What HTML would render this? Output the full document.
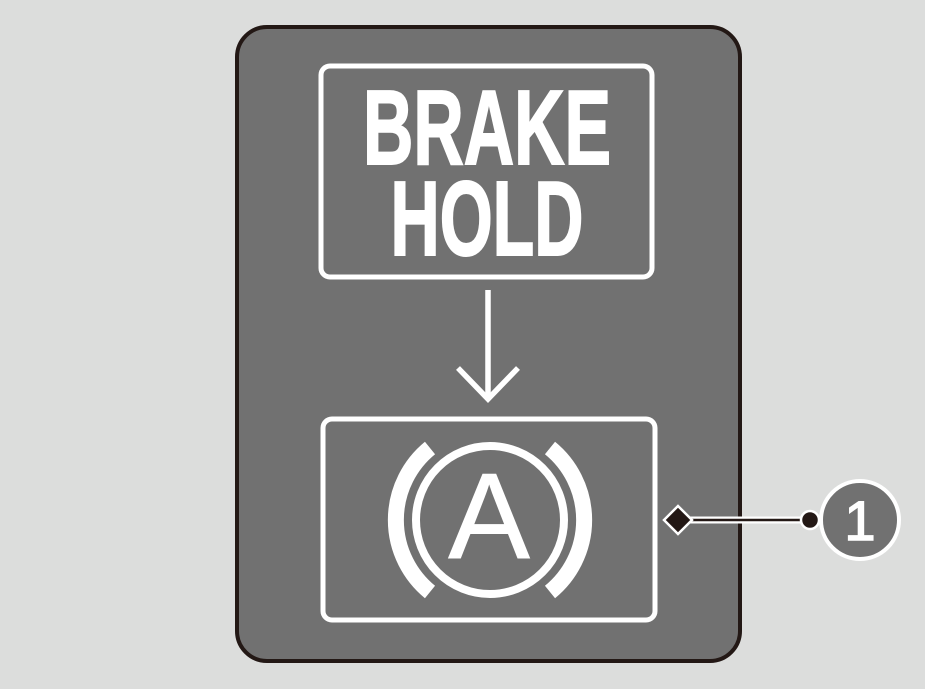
<!DOCTYPE html>
<html><head><style>html,body{margin:0;padding:0;background:#dcdddc;}svg{display:block}</style></head>
<body>
<svg width="925" height="689" viewBox="0 0 925 689" xmlns="http://www.w3.org/2000/svg">
<rect x="0" y="0" width="925" height="689" fill="#dcdddc"/>
<rect x="237" y="27" width="503" height="634" rx="30" fill="#717171" stroke="#231815" stroke-width="4"/>
<rect x="321" y="66" width="331" height="211" rx="9" fill="none" stroke="#fff" stroke-width="5"/>
<text x="487" y="164" text-anchor="middle" font-family="Liberation Sans Narrow, Liberation Sans, sans-serif" font-weight="bold" font-size="106" fill="#fff" stroke="#fff" stroke-width="2" textLength="248" lengthAdjust="spacingAndGlyphs">BRAKE</text>
<text x="487" y="255" text-anchor="middle" font-family="Liberation Sans Narrow, Liberation Sans, sans-serif" font-weight="bold" font-size="106" fill="#fff" stroke="#fff" stroke-width="2" textLength="193" lengthAdjust="spacingAndGlyphs">HOLD</text>
<line x1="488" y1="290" x2="488" y2="400" stroke="#fff" stroke-width="5.5"/>
<polyline points="458,368 488,399 518,368" fill="none" stroke="#fff" stroke-width="5.5"/>
<rect x="323" y="419" width="332" height="201" rx="9" fill="none" stroke="#fff" stroke-width="5"/>
<circle cx="490" cy="520" r="74" fill="none" stroke="#fff" stroke-width="8"/>
<path d="M 430 448 A 93 93 0 0 0 430 592" fill="none" stroke="#fff" stroke-width="16"/>
<path d="M 550 448 A 93 93 0 0 1 550 592" fill="none" stroke="#fff" stroke-width="16"/>
<text x="489" y="558" text-anchor="middle" font-family="Liberation Sans, sans-serif" font-size="122" fill="#fff" stroke="#fff" stroke-width="1">A</text>
<line x1="678" y1="520" x2="810" y2="520" stroke="#fff" stroke-width="7"/>
<line x1="678" y1="520" x2="810" y2="520" stroke="#231815" stroke-width="2.5"/>
<polygon points="664,520 678,506 692,520 678,534" fill="#231815" stroke="#fff" stroke-width="2.5"/>
<circle cx="810" cy="520" r="9" fill="#231815" stroke="#fff" stroke-width="2.5"/>
<circle cx="860" cy="520" r="39" fill="#717171" stroke="#fff" stroke-width="4"/>
<text x="860" y="540" text-anchor="middle" font-family="Liberation Sans, sans-serif" font-size="56" fill="#fff" stroke="#fff" stroke-width="1.5">1</text>
</svg>
</body></html>
